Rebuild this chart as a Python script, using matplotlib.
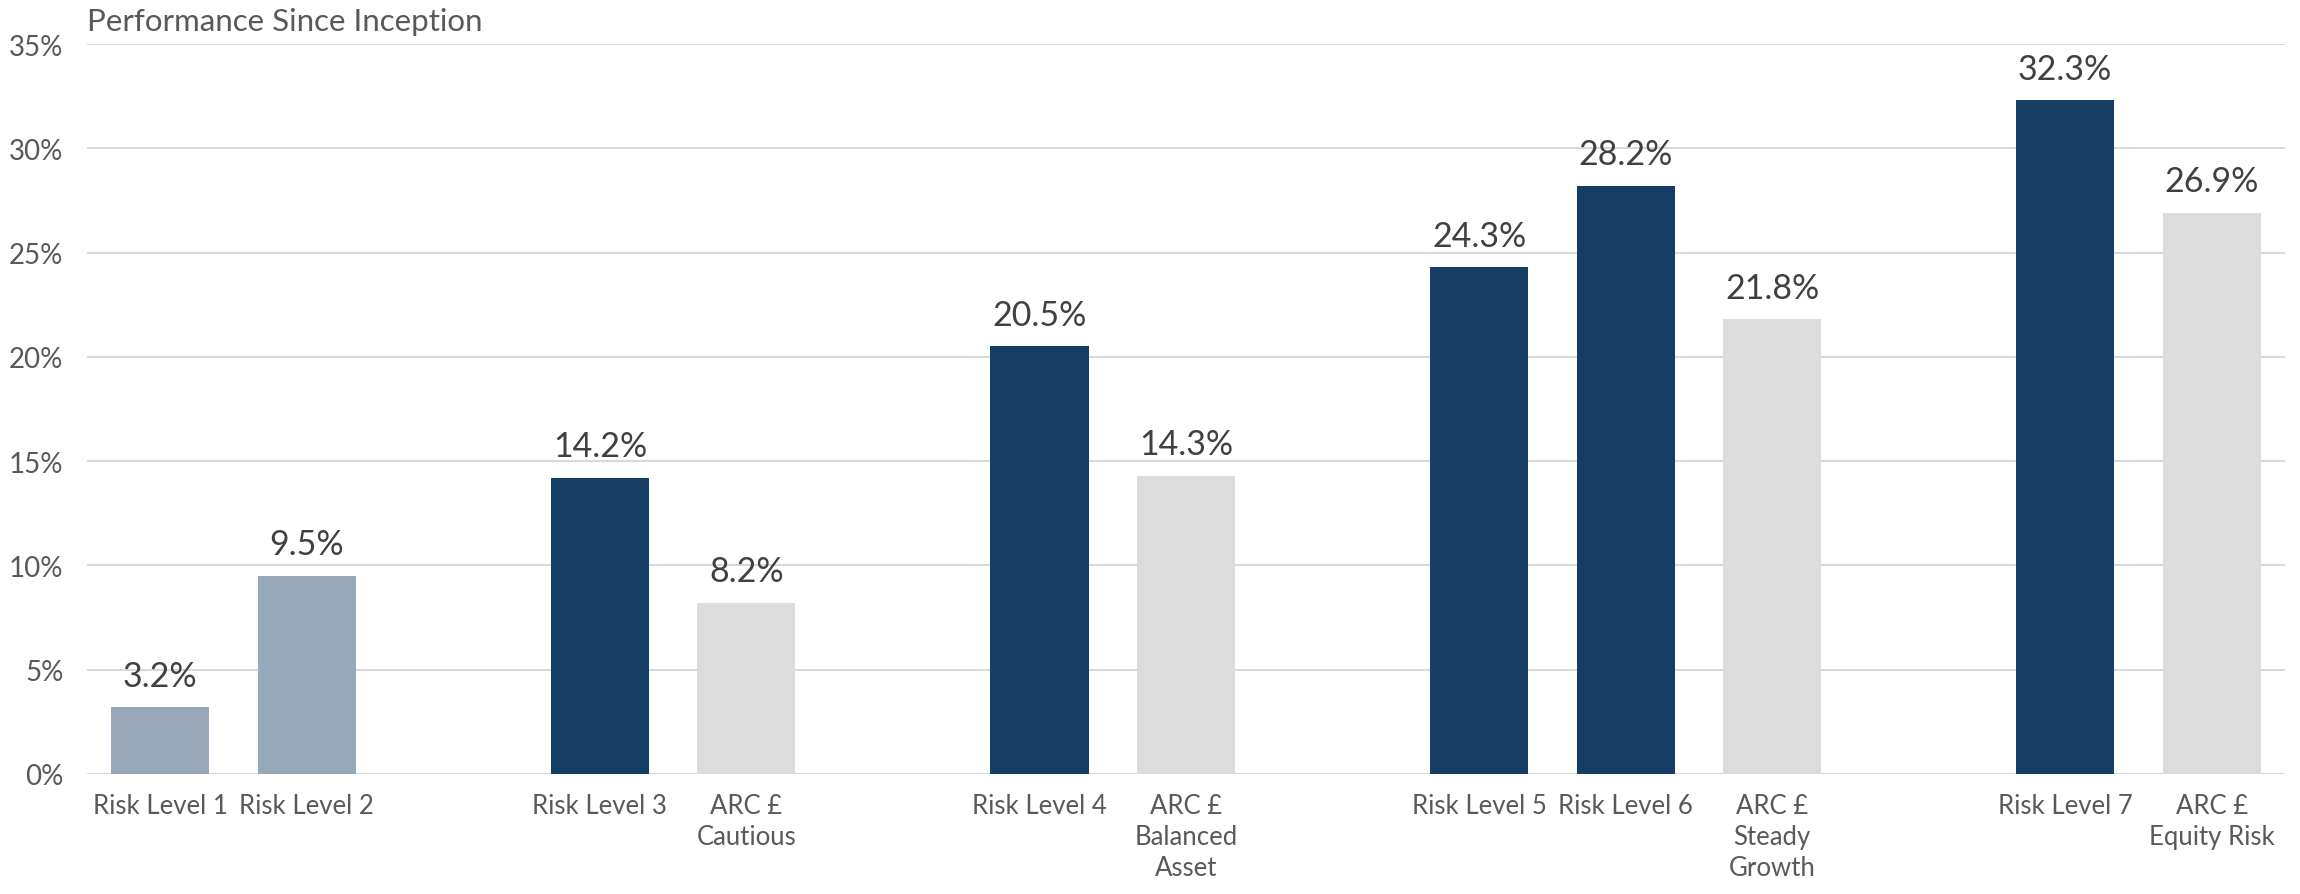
import matplotlib.pyplot as plt
import numpy as np

# chart values
labels = ["Risk Level 1", "Risk Level 2", "",
          "Risk Level 3", "ARC £\nCautious", "",
          "Risk Level 4", "ARC £\nBalanced\nAsset", "",
          "Risk Level 5", "Risk Level 6", "ARC £\nSteady\nGrowth", "",
          "Risk Level 7", "ARC £\nEquity Risk"]
values = [3.2, 9.5, None,
          14.2, 8.2, None,
          20.5, 14.3, None,
          24.3, 28.2, 21.8, None,
          32.3, 26.9]
kinds = ["old", "old", "",
         "fund", "arc", "",
         "fund", "arc", "",
         "fund", "fund", "arc", "",
         "fund", "arc"]
yticks = [0, 5, 10, 15, 20, 25, 30, 35]

colours = {"old": "#97A8BA", "fund": "#163D63", "arc": "#DCDCDC"}

plt.rcParams['font.family'] = ['Lato', 'DejaVu Sans']

fig = plt.figure(figsize=(23, 8.95), dpi=100)
ax = fig.add_axes([87 / 2300, 1 - 775 / 895, 2198 / 2300, (775 - 45) / 895])

x = np.arange(len(labels))
for i, (v, k) in enumerate(zip(values, kinds)):
    if v is None:
        continue
    ax.bar(x[i], v, width=0.67, color=colours[k], zorder=3)
    ax.annotate(f"{v:.1f}%", (x[i], v), xytext=(0, 15.5), textcoords="offset points",
                ha="center", va="baseline", fontsize=24.5, color="#404040")

ax.set_xlim(-0.5, len(labels) - 0.5)
ax.set_ylim(0, 35)
ax.set_yticks(yticks)
ax.set_yticklabels([f"{t}%" for t in yticks])
ax.set_xticks(x)
ax.set_xticklabels(labels, linespacing=1.28)
ax.tick_params(axis="y", length=0, pad=17, labelsize=20, labelcolor="#595959")
ax.tick_params(axis="x", length=0, pad=14, labelsize=18.5, labelcolor="#595959")
ax.grid(axis="y", color="#D9D9D9", linewidth=1.5, zorder=0)
for s in ax.spines.values():
    s.set_visible(False)

fig.text(87 / 2300, 1 - 31 / 895, "Performance Since Inception", fontsize=22.5,
         color="#595959", va="baseline", ha="left")

fig.savefig("out.png", dpi=100)
